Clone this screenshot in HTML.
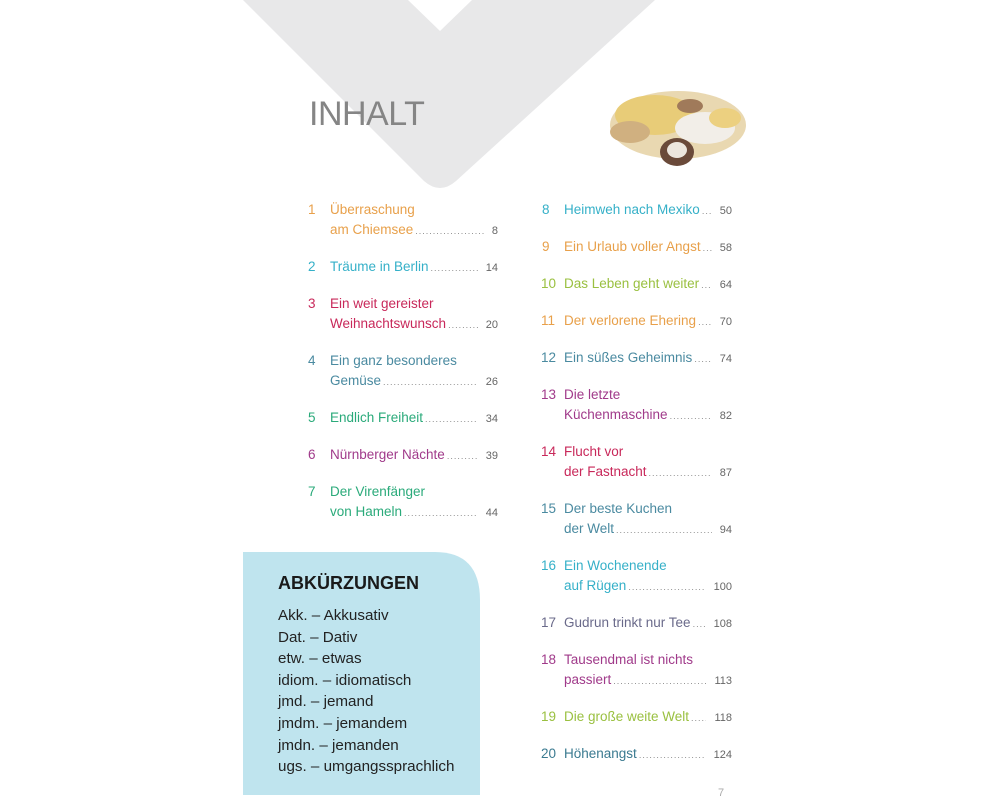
<!DOCTYPE html><html><head><meta charset="utf-8"><style>
body{margin:0;width:1000px;height:800px;background:#fff;position:relative;overflow:hidden;font-family:"Liberation Sans",sans-serif}
.n,.l{position:absolute;font-size:13.5px;line-height:20px;height:20px;white-space:nowrap}
.l{display:flex;align-items:baseline}
.d{flex:1;overflow:hidden;font-size:9px;color:#888;letter-spacing:1px;margin-left:2px;margin-right:8px}
.p{font-size:11px;color:#666}
.c1 .n{left:308px}.c1 .l{left:330px;width:168px}
.c2 .n{left:542px}.c2 .l{left:564px;width:168px}
.ab{position:absolute;left:278px;font-size:15.2px;color:#222}
</style></head><body>
<svg width="1000" height="800" style="position:absolute;left:0;top:0">
<path d="M243,0 L424,181 Q440,195 456,181 L655,0 L472,0 L440,31 L408,0 Z" fill="#e8e8e9"/>
<path d="M243,552 L435,552 Q480,552 480,600 L480,795 L243,795 Z" fill="#bfe4ee"/>
<ellipse cx="678" cy="125" rx="68" ry="34" fill="#e0c890" opacity=".7"/>
<ellipse cx="655" cy="115" rx="40" ry="20" fill="#e8cc78"/>
<ellipse cx="705" cy="128" rx="30" ry="16" fill="#f2eee8"/>
<ellipse cx="677" cy="152" rx="17" ry="14" fill="#6a4a3a"/>
<ellipse cx="677" cy="150" rx="10" ry="8" fill="#ece6de"/>
<ellipse cx="630" cy="132" rx="20" ry="11" fill="#d0b080"/>
<ellipse cx="690" cy="106" rx="13" ry="7" fill="#a07a5a"/>
<ellipse cx="725" cy="118" rx="16" ry="10" fill="#ecd080"/>
</svg>
<div style="position:absolute;left:309px;top:95px;font-size:34px;color:#858585;letter-spacing:-0.5px">INHALT</div>

<div class="c1">
<div class="n" style="top:200px;color:#e8a04a">1</div><div class="l" style="top:200px;color:#e8a04a">Überraschung</div>
<div class="l" style="top:220px;color:#e8a04a">am Chiemsee<span class="d">........................................................</span><span class="p">8</span></div>
<div class="n" style="top:257px;color:#35b0c8">2</div><div class="l" style="top:257px;color:#35b0c8">Träume in Berlin<span class="d">........................................................</span><span class="p">14</span></div>
<div class="n" style="top:294px;color:#c8285a">3</div><div class="l" style="top:294px;color:#c8285a">Ein weit gereister</div>
<div class="l" style="top:314px;color:#c8285a">Weihnachtswunsch<span class="d">........................................................</span><span class="p">20</span></div>
<div class="n" style="top:351px;color:#4a8aa0">4</div><div class="l" style="top:351px;color:#4a8aa0">Ein ganz besonderes</div>
<div class="l" style="top:371px;color:#4a8aa0">Gemüse<span class="d">........................................................</span><span class="p">26</span></div>
<div class="n" style="top:408px;color:#2aaa7a">5</div><div class="l" style="top:408px;color:#2aaa7a">Endlich Freiheit<span class="d">........................................................</span><span class="p">34</span></div>
<div class="n" style="top:445px;color:#a03a8a">6</div><div class="l" style="top:445px;color:#a03a8a">Nürnberger Nächte<span class="d">........................................................</span><span class="p">39</span></div>
<div class="n" style="top:482px;color:#2aaa7a">7</div><div class="l" style="top:482px;color:#2aaa7a">Der Virenfänger</div>
<div class="l" style="top:502px;color:#2aaa7a">von Hameln<span class="d">........................................................</span><span class="p">44</span></div>
</div>

<div class="c2">
<div class="n" style="top:200px;color:#35b0c8">8</div><div class="l" style="top:200px;color:#35b0c8">Heimweh nach Mexiko<span class="d">........................................................</span><span class="p">50</span></div>
<div class="n" style="top:237px;color:#e8a04a">9</div><div class="l" style="top:237px;color:#e8a04a">Ein Urlaub voller Angst<span class="d">........................................................</span><span class="p">58</span></div>
<div class="n" style="top:274px;color:#9ac040;left:541px">10</div><div class="l" style="top:274px;color:#9ac040">Das Leben geht weiter<span class="d">........................................................</span><span class="p">64</span></div>
<div class="n" style="top:311px;color:#e8a04a;left:541px">11</div><div class="l" style="top:311px;color:#e8a04a">Der verlorene Ehering<span class="d">........................................................</span><span class="p">70</span></div>
<div class="n" style="top:348px;color:#4a8aa0;left:541px">12</div><div class="l" style="top:348px;color:#4a8aa0">Ein süßes Geheimnis<span class="d">........................................................</span><span class="p">74</span></div>
<div class="n" style="top:385px;color:#a03a8a;left:541px">13</div><div class="l" style="top:385px;color:#a03a8a">Die letzte</div>
<div class="l" style="top:405px;color:#a03a8a">Küchenmaschine<span class="d">........................................................</span><span class="p">82</span></div>
<div class="n" style="top:442px;color:#c8285a;left:541px">14</div><div class="l" style="top:442px;color:#c8285a">Flucht vor</div>
<div class="l" style="top:462px;color:#c8285a">der Fastnacht<span class="d">........................................................</span><span class="p">87</span></div>
<div class="n" style="top:499px;color:#4a8aa0;left:541px">15</div><div class="l" style="top:499px;color:#4a8aa0">Der beste Kuchen</div>
<div class="l" style="top:519px;color:#4a8aa0">der Welt<span class="d">........................................................</span><span class="p">94</span></div>
<div class="n" style="top:556px;color:#35b0c8;left:541px">16</div><div class="l" style="top:556px;color:#35b0c8">Ein Wochenende</div>
<div class="l" style="top:576px;color:#35b0c8">auf Rügen<span class="d">........................................................</span><span class="p">100</span></div>
<div class="n" style="top:613px;color:#6a6a8a;left:541px">17</div><div class="l" style="top:613px;color:#6a6a8a">Gudrun trinkt nur Tee<span class="d">........................................................</span><span class="p">108</span></div>
<div class="n" style="top:650px;color:#a03a8a;left:541px">18</div><div class="l" style="top:650px;color:#a03a8a">Tausendmal ist nichts</div>
<div class="l" style="top:670px;color:#a03a8a">passiert<span class="d">........................................................</span><span class="p">113</span></div>
<div class="n" style="top:707px;color:#9ac040;left:541px">19</div><div class="l" style="top:707px;color:#9ac040">Die große weite Welt<span class="d">........................................................</span><span class="p">118</span></div>
<div class="n" style="top:744px;color:#3a7a90;left:541px">20</div><div class="l" style="top:744px;color:#3a7a90">Höhenangst<span class="d">........................................................</span><span class="p">124</span></div>
</div>

<div class="ab" style="top:573px;font-size:18px;font-weight:bold;color:#1a1a1a">ABKÜRZUNGEN</div>
<div class="ab" style="top:605px;line-height:21.6px">Akk. – Akkusativ<br>Dat. – Dativ<br>etw. – etwas<br>idiom. – idiomatisch<br>jmd. – jemand<br>jmdm. – jemandem<br>jmdn. – jemanden<br>ugs. – umgangssprachlich</div>
<div style="position:absolute;left:718px;top:787px;font-size:11px;color:#aaa">7</div>
</body></html>
